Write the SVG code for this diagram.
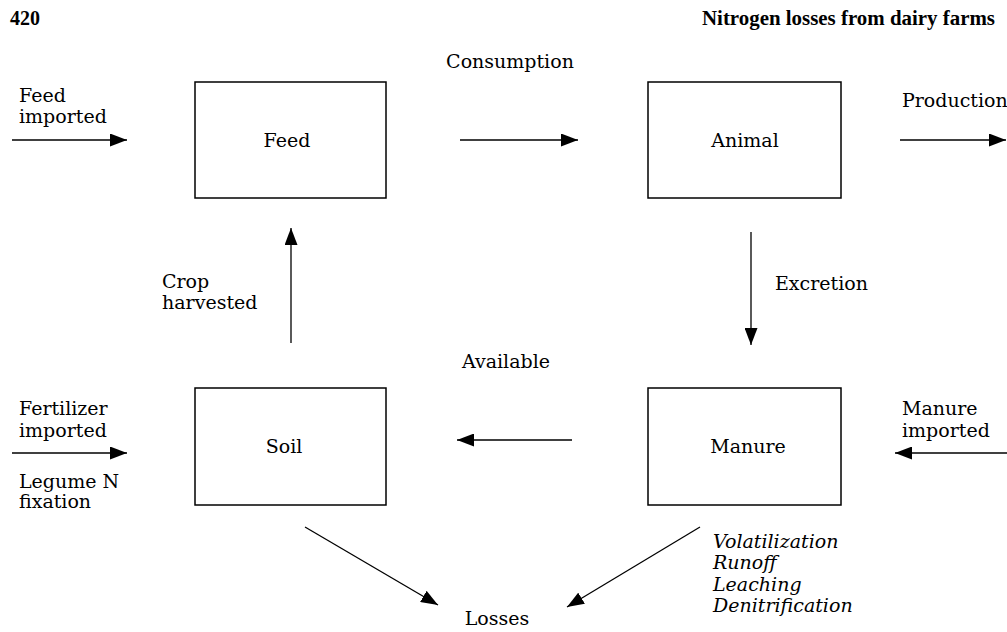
<svg xmlns="http://www.w3.org/2000/svg" width="1007" height="632" viewBox="0 0 1007 632">
<style>
text{font-family:"DejaVu Serif","Liberation Serif",serif;font-size:19px;fill:#000}
.hd{font-family:"Liberation Serif",serif;font-weight:bold;font-size:20px}
.it{font-style:italic}
.mid{text-anchor:middle}
rect{fill:#fff;stroke:#000;stroke-width:1.5}
line{stroke:#000;stroke-width:1.3}
</style>
<defs>
<marker id="ah" viewBox="0 0 17 13" refX="17" refY="6.5" markerWidth="17" markerHeight="13" markerUnits="userSpaceOnUse" orient="auto">
<path d="M0,0 L17,6.5 L0,13 Z" fill="#000"/>
</marker>
</defs>
<text class="hd" x="10" y="25">420</text>
<text class="hd" x="702" y="25" textLength="293" lengthAdjust="spacingAndGlyphs">Nitrogen losses from dairy farms</text>
<g id="feed"><rect x="195" y="82" width="191" height="116"/><text class="mid" x="287" y="147">Feed</text></g>
<g id="animal"><rect x="648" y="82" width="193" height="116"/><text class="mid" x="745" y="147">Animal</text></g>
<g id="soil"><rect x="195" y="388" width="191" height="117"/><text class="mid" x="284" y="453">Soil</text></g>
<g id="manure"><rect x="648" y="388" width="193" height="117"/><text class="mid" x="748" y="453">Manure</text></g>
<g id="connectors">
<line x1="12" y1="140" x2="127" y2="140" marker-end="url(#ah)"/>
<line x1="460" y1="140" x2="578" y2="140" marker-end="url(#ah)"/>
<line x1="900" y1="140" x2="1006" y2="140" marker-end="url(#ah)"/>
<line x1="751" y1="232" x2="751" y2="345" marker-end="url(#ah)"/>
<line x1="291" y1="343" x2="291" y2="228" marker-end="url(#ah)"/>
<line x1="572" y1="440" x2="457" y2="440" marker-end="url(#ah)"/>
<line x1="12" y1="453" x2="127" y2="453" marker-end="url(#ah)"/>
<line x1="1007" y1="453" x2="895" y2="453" marker-end="url(#ah)"/>
<line x1="305" y1="527" x2="438" y2="605" marker-end="url(#ah)"/>
<line x1="700" y1="527" x2="567" y2="607" marker-end="url(#ah)"/>
</g>
<g id="labels">
<text class="mid" x="510" y="68">Consumption</text>
<text x="19" y="102">Feed</text><text x="19" y="123">imported</text>
<text x="902" y="107">Production</text>
<text x="162" y="288">Crop</text><text x="162" y="309">harvested</text>
<text x="775" y="290">Excretion</text>
<text x="462" y="368">Available</text>
<text x="19" y="415">Fertilizer</text><text x="19" y="437">imported</text>
<text x="19" y="488">Legume N</text><text x="19" y="508">fixation</text>
<text x="902" y="415">Manure</text><text x="902" y="437">imported</text>
<text class="it" x="713" y="548">Volatilization</text>
<text class="it" x="713" y="569">Runoff</text>
<text class="it" x="713" y="591">Leaching</text>
<text class="it" x="713" y="612">Denitrification</text>
<text class="mid" x="497" y="625">Losses</text>
</g>
</svg>
